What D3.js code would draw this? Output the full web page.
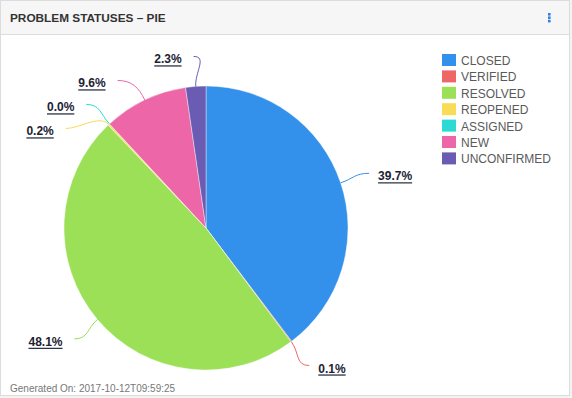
<!DOCTYPE html>
<html lang="en">
  <head>
    <meta charset="utf-8">
    <script src="https://d3js.org/d3.v7.min.js"></script>
    <title>Problem statuses - pie</title>
    <style>
      body { margin: 0; background: #f3f3f3; }
      svg { display: block; font-family: "Liberation Sans", Arial, Helvetica, sans-serif; }
    </style>
  </head>
  <body>
    <script>

    // data
    var categories = ["CLOSED", "VERIFIED", "RESOLVED", "REOPENED", "ASSIGNED", "NEW", "UNCONFIRMED"];
    var values = [39.7, 0.1, 48.1, 0.2, 0.0, 9.6, 2.3];
    var colors = ["#3391eb", "#ee6666", "#9be057", "#f8dc55", "#2bdad3", "#ec66a8", "#6a5bb3"];
    var title = "PROBLEM STATUSES \u2013 PIE";
    var footer = "Generated On: 2017-10-12T09:59:25";

    var width = 572, height = 398;
    var cx = 206, cy = 228, r = 142;
    var labelR = r + 30;

    var svg = d3.select("body").append("svg")
      .attr("width", width)
      .attr("height", height);

    // card + header
    svg.append("rect")
      .attr("x", 0.5).attr("y", 0.5)
      .attr("width", 569).attr("height", 395)
      .attr("fill", "#fff")
      .attr("stroke", "#dcdcdc");

    svg.append("rect")
      .attr("x", 1).attr("y", 1)
      .attr("width", 568).attr("height", 33)
      .attr("fill", "#f6f6f6");

    svg.append("line")
      .attr("x1", 1).attr("x2", 569)
      .attr("y1", 34.5).attr("y2", 34.5)
      .attr("stroke", "#dddddd");

    svg.append("text")
      .attr("x", 10).attr("y", 22)
      .attr("font-size", 11.8)
      .attr("font-weight", "bold")
      .attr("fill", "#333")
      .text(title);

    // kebab menu
    svg.selectAll(".dot")
      .data([0, 1, 2])
      .enter().append("rect")
        .attr("x", 548).attr("y", function(d){ return 13 + d * 3.4; })
        .attr("width", 2.6).attr("height", 2.6)
        .attr("fill", "#2b82dd");

    svg.append("text")
      .attr("x", 10).attr("y", 391.5)
      .attr("font-size", 10)
      .attr("fill", "#777")
      .text(footer);

    // pie
    var pie = d3.pie().sort(null).value(function(d){ return d; });
    var arcs = pie(values);
    var arc = d3.arc().innerRadius(0).outerRadius(r);

    var g = svg.append("g")
      .attr("transform", "translate(" + [cx, cy] + ")");

    g.selectAll(".slice")
      .data(arcs)
      .enter().append("path")
        .attr("class", "slice")
        .attr("d", arc)
        .attr("fill", function(d, i){ return colors[i]; })
        .attr("stroke", "rgba(255,255,255,0.5)")
        .attr("stroke-width", 0.8);

    // label layout: natural spot on a larger circle, then push apart per side
    var labels = arcs.map(function(d, i) {
      var a = (d.startAngle + d.endAngle) / 2;
      return {
        i: i, a: a,
        side: Math.sin(a) >= 0 ? 1 : -1,
        y: -labelR * Math.cos(a)
      };
    });

    [1, -1].forEach(function(side) {
      var group = labels.filter(function(l){ return l.side === side; })
        .sort(function(a, b){ return a.y - b.y; });
      for (var k = 1; k < group.length; k++) {
        if (group[k].y - group[k - 1].y < 24) group[k].y = group[k - 1].y + 24;
      }
    });

    labels.forEach(function(l) {
      var yy = Math.max(-labelR, Math.min(labelR, l.y));
      l.x = l.side * Math.sqrt(labelR * labelR - yy * yy);
    });

    var lbl = g.selectAll(".lbl")
      .data(labels)
      .enter().append("g")
        .attr("class", "lbl");

    lbl.append("path")
      .attr("fill", "none")
      .attr("stroke", function(d){ return colors[d.i]; })
      .attr("stroke-width", 1)
      .attr("d", function(d) {
        var x0 = r * Math.sin(d.a), y0 = -r * Math.cos(d.a);
        var x1 = (r + 14) * Math.sin(d.a), y1 = -(r + 14) * Math.cos(d.a);
        var x2 = d.x - d.side * 14, y2 = d.y;
        return "M" + x0 + "," + y0 + "C" + x1 + "," + y1 + " " + x2 + "," + y2 + " " + d.x + "," + d.y;
      });

    lbl.append("text")
      .attr("x", function(d){ return d.x + (d.side > 0 ? 9 : -12); })
      .attr("y", function(d){ return d.y + 7; })
      .attr("text-anchor", function(d){ return d.side > 0 ? "start" : "end"; })
      .attr("font-size", 12)
      .attr("font-weight", "bold")
      .attr("fill", "#1b2333")
      .text(function(d){ return values[d.i].toFixed(1) + "%"; });

    lbl.each(function(d) {
      var t = d3.select(this).select("text");
      var w = t.node().getComputedTextLength();
      var tx = +t.attr("x") - (d.side > 0 ? 0 : w);
      d3.select(this).append("line")
        .attr("x1", tx).attr("x2", tx + w)
        .attr("y1", d.y + 9.5).attr("y2", d.y + 9.5)
        .attr("stroke", "#2a3446")
        .attr("stroke-width", 1.3);
    });

    // legend
    var legend = svg.append("g")
      .attr("transform", "translate(442,54)");

    var item = legend.selectAll(".item")
      .data(categories)
      .enter().append("g")
        .attr("class", "item")
        .attr("transform", function(d, i){ return "translate(0," + (i * 16.4) + ")"; });

    item.append("rect")
      .attr("width", 14).attr("height", 12)
      .attr("fill", function(d, i){ return colors[i]; });

    item.append("text")
      .attr("x", 19).attr("y", 11)
      .attr("font-size", 12)
      .attr("fill", "#5a5a5a")
      .text(function(d){ return d; });

    </script>
  </body>
</html>
